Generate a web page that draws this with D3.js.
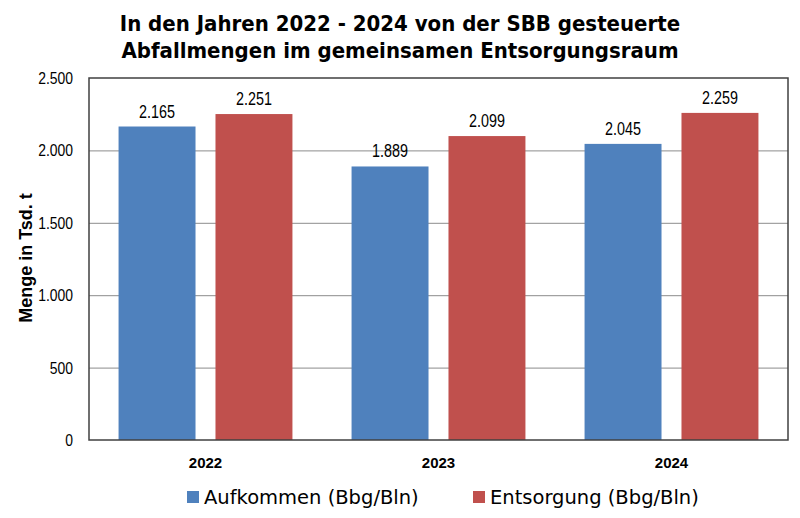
<!DOCTYPE html>
<html>
<head>
<meta charset="utf-8">
<script src="https://cdn.jsdelivr.net/npm/d3@7"></script>
<style>
  body { margin: 0; background: #fff; }
  svg { display: block; }
</style>
</head>
<body>
<div id="chart"></div>
<script>
// chart data
const years = ["2022", "2023", "2024"];
const seriesNames = ["Aufkommen (Bbg/Bln)", "Entsorgung (Bbg/Bln)"];
const aufkommen = [2165, 1889, 2045];
const entsorgung = [2251, 2099, 2259];
const yTicks = [0, 500, 1000, 1500, 2000, 2500];
const titleLines = [
    "In den Jahren 2022 - 2024 von der SBB gesteuerte",
    "Abfallmengen im gemeinsamen Entsorgungsraum"
];
const yTitle = "Menge in Tsd. t";

const WIDTH = 800, HEIGHT = 518;
const MARGIN = {top: 78, right: 12, bottom: 78, left: 89};
const COLORS = ["#4F81BD", "#C0504D"];
// the numbers in the original use a narrow face; squeeze Liberation Sans
const SQUEEZE = 0.82;
const fmt = d3.formatLocale({decimal: ",", thousands: ".", grouping: [3]}).format(",d");

const plotW = WIDTH - MARGIN.left - MARGIN.right;
const plotH = HEIGHT - MARGIN.top - MARGIN.bottom;

const svg = d3.select("#chart")
    .append("svg")
    .attr("width", WIDTH)
    .attr("height", HEIGHT);

// title
svg.append("g")
    .selectAll("text")
    .data(titleLines)
    .enter()
    .append("text")
      .attr("x", 400)
      .attr("y", (d, i) => 31 + i * 27)
      .attr("text-anchor", "middle")
      .attr("font-family", "DejaVu Sans Condensed, DejaVu Sans")
      .attr("font-weight", "bold")
      .attr("font-size", 22)
      .attr("fill", "#000")
      .text(d => d);

const g = svg.append("g")
    .attr("transform", "translate(" + MARGIN.left + "," + MARGIN.top + ")");

const x0 = d3.scaleBand()
    .domain(years)
    .range([0, plotW]);

const x1 = d3.scaleBand()
    .domain([0, 1])
    .range([0, x0.bandwidth()])
    .paddingInner(0.206)
    .paddingOuter(0.305);

const y = d3.scaleLinear()
    .domain([0, 2500])
    .range([plotH, 0]);

// gridlines
g.append("g")
    .selectAll("line")
    .data(yTicks.filter(t => t > 0 && t < 2500))
    .enter()
    .append("line")
      .attr("x1", 0)
      .attr("x2", plotW)
      .attr("y1", d => y(d) + 0.5)
      .attr("y2", d => y(d) + 0.5)
      .attr("stroke", "#8c8c8c")
      .attr("stroke-width", 1);

// bars
const rows = years.map((yr, i) => ({year: yr, values: [aufkommen[i], entsorgung[i]]}));

const groups = g.append("g")
    .selectAll("g")
    .data(rows)
    .enter()
    .append("g")
      .attr("transform", d => "translate(" + x0(d.year) + ",0)");

groups.selectAll("rect")
    .data(d => d.values.map((v, k) => ({k: k, v: v})))
    .enter()
    .append("rect")
      .attr("x", d => x1(d.k))
      .attr("y", d => y(d.v))
      .attr("width", x1.bandwidth())
      .attr("height", d => plotH - y(d.v))
      .attr("fill", d => COLORS[d.k]);

groups.selectAll("text")
    .data(d => d.values.map((v, k) => ({k: k, v: v})))
    .enter()
    .append("text")
      .attr("transform", d => "translate(" + (x1(d.k) + x1.bandwidth() / 2) + "," + (y(d.v) - 9) + ") scale(" + SQUEEZE + ",1)")
      .attr("text-anchor", "middle")
      .attr("font-family", "Liberation Sans, Arial")
      .attr("font-size", 17.5)
      .attr("fill", "#000")
      .text(d => fmt(d.v));

// y axis
const yAxis = g.append("g")
    .call(d3.axisLeft(y).tickValues(yTicks).tickFormat(fmt).tickSize(0).tickPadding(0));
yAxis.select(".domain").remove();
yAxis.selectAll("text")
    .attr("x", null)
    .attr("transform", "translate(-16,0) scale(" + SQUEEZE + ",1)")
    .attr("font-family", "Liberation Sans, Arial")
    .attr("font-size", 17)
    .attr("fill", "#000");

// x axis
const xAxis = g.append("g")
    .attr("transform", "translate(0," + plotH + ")")
    .call(d3.axisBottom(x0).tickSize(0).tickPadding(17));
xAxis.select(".domain").remove();
xAxis.selectAll("text")
    .attr("font-family", "Liberation Sans, Arial")
    .attr("font-weight", "bold")
    .attr("font-size", 15)
    .attr("fill", "#000");

// plot frame
g.append("rect")
    .attr("x", 0)
    .attr("y", 0)
    .attr("width", plotW)
    .attr("height", plotH)
    .attr("fill", "none")
    .attr("stroke", "#404040")
    .attr("stroke-width", 1.5);

// y title
svg.append("text")
    .attr("transform", "translate(32,258) rotate(-90)")
    .attr("text-anchor", "middle")
    .attr("font-family", "Liberation Sans, Arial")
    .attr("font-weight", "bold")
    .attr("font-size", 18)
    .attr("fill", "#000")
    .text(yTitle);

// legend
const legendX = [187, 473];
const legend = svg.append("g")
    .selectAll("g")
    .data(seriesNames)
    .enter()
    .append("g")
      .attr("transform", (d, i) => "translate(" + legendX[i] + ",491)");
legend.append("rect")
    .attr("width", 12)
    .attr("height", 12)
    .attr("fill", (d, i) => COLORS[i]);
legend.append("text")
    .attr("x", 17)
    .attr("y", 13)
    .attr("font-family", "DejaVu Sans, Verdana")
    .attr("font-size", 19.5)
    .attr("fill", "#000")
    .text(d => d);
</script>
</body>
</html>
